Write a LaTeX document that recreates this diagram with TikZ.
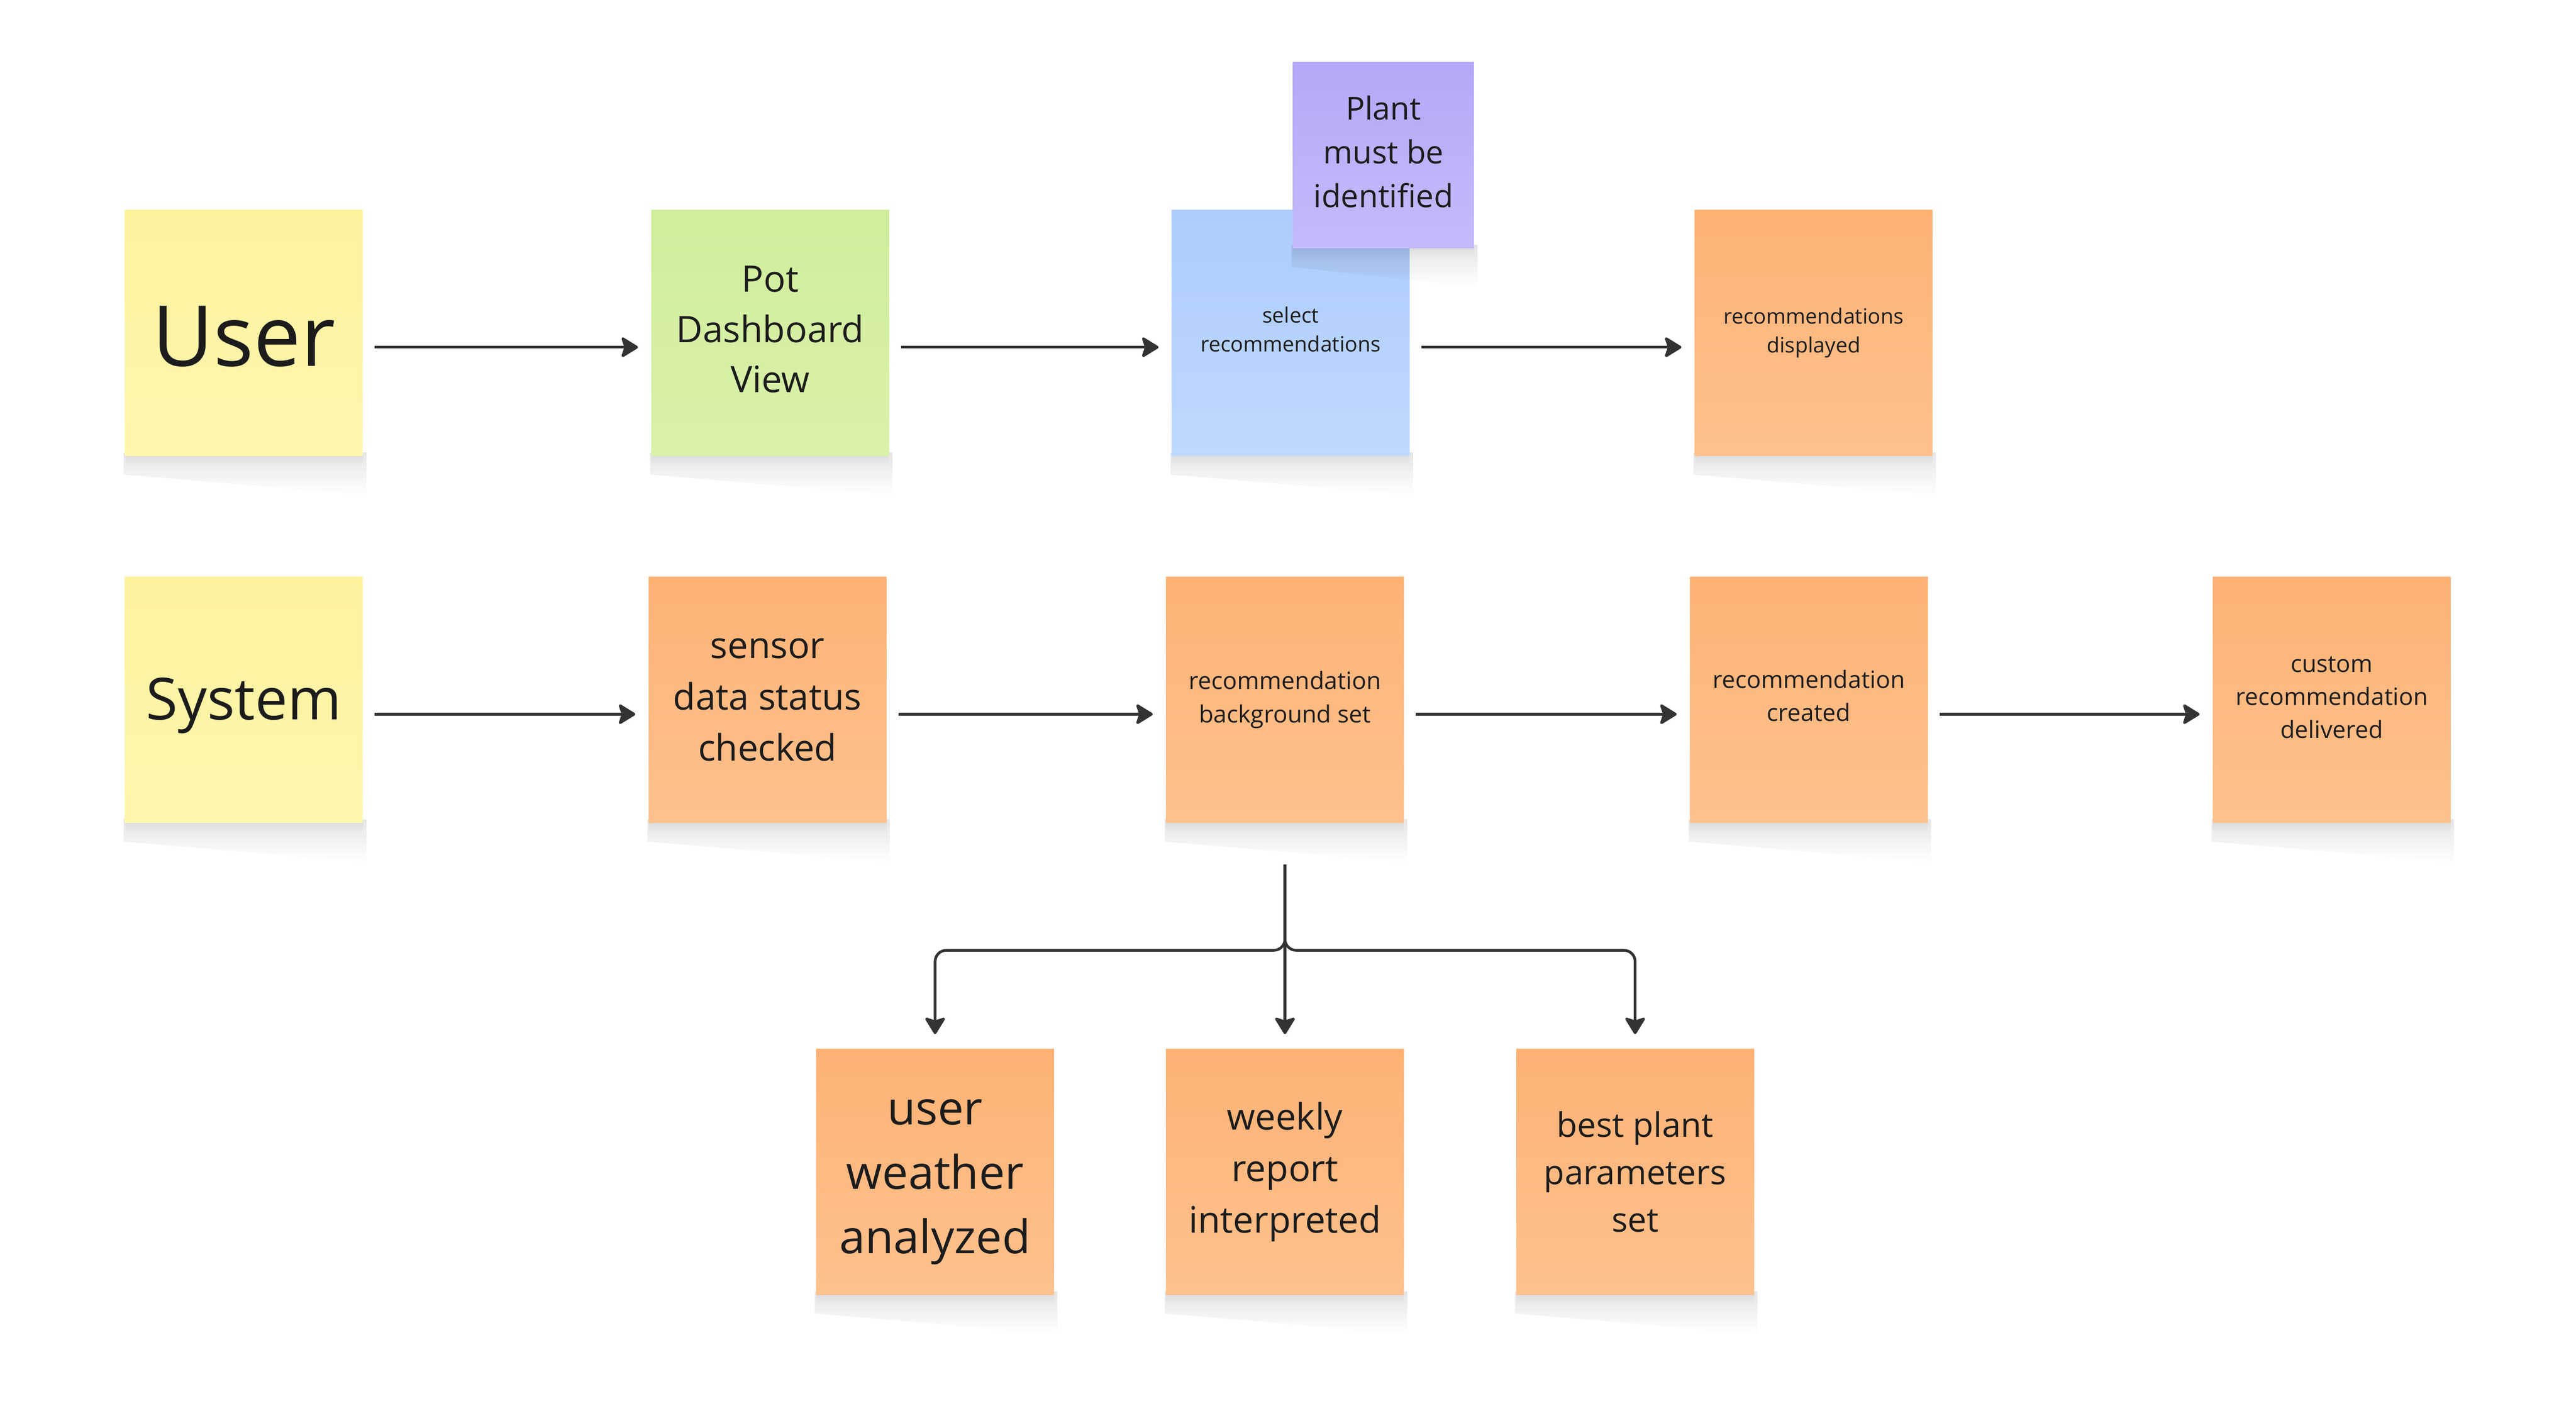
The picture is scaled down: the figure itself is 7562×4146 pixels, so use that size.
\documentclass[tikz,border=0pt]{standalone}
\usepackage{fontspec}
\setmainfont{Open Sans}
\usetikzlibrary{arrows.meta,fadings}
\definecolor{ylT}{HTML}{FDF29E}
\definecolor{ylB}{HTML}{FFF6AD}
\definecolor{grT}{HTML}{CFED9B}
\definecolor{grB}{HTML}{D9F1AA}
\definecolor{blT}{HTML}{ADCCFB}
\definecolor{blB}{HTML}{BED9FF}
\definecolor{puT}{HTML}{B5A7F7}
\definecolor{puB}{HTML}{C5BAFB}
\definecolor{orT}{HTML}{FDB274}
\definecolor{orB}{HTML}{FEC18D}
\definecolor{lc}{HTML}{333333}
\definecolor{txt}{HTML}{1C1C1C}
\newcommand\stickyshadow[3]{%
  \fill[black,opacity=0.10,path fading=south] (#1-4,#3-10) -- (#2+10,#3-10) -- (#2+10,#3+115) -- (#1-4,#3+55) -- cycle;
  \fill[black,opacity=0.05,path fading=south] (#1,#3-5) rectangle (#2,#3+28);}
\newcommand\txheight[1]{\rule{0pt}{#1}}
\newcommand\txdepth[1]{\rule[-#1]{0pt}{#1}}
\begin{document}
\begin{tikzpicture}[x=0.1pt,y=-0.1pt,
  sticky/.style={rectangle, inner sep=0pt, minimum width=69.8pt, minimum height=72.2pt, align=center, text=txt},
  yellowbox/.style={sticky, top color=ylT, bottom color=ylB},
  greenbox/.style={sticky, top color=grT, bottom color=grB},
  bluebox/.style={sticky, top color=blT, bottom color=blB},
  orangebox/.style={sticky, top color=orT, bottom color=orB},
  purplebox/.style={sticky, minimum width=53.2pt, minimum height=54.7pt, top color=puT, bottom color=puB},
  conn/.style={draw=lc, line width=0.8pt, -{Stealth[length=5.5pt,width=6.7pt,inset=1.1pt,round]}},
  hconn/.style={conn, shorten <=3.3pt, shorten >=3.7pt},
  vconn/.style={conn, shorten >=4.1pt, rounded corners=3.3pt}
]
\useasboundingbox (0,0) rectangle (7562,4146);
% row 1
\stickyshadow{367}{1066}{1338}
\node[yellowbox, font=\fontsize{24.7}{30}\selectfont] (user) at (716,977) {\txheight{19.6pt}User};
\stickyshadow{1912}{2610}{1338}
\node[greenbox, font=\fontsize{10.7}{14.8}\selectfont] (pot) at (2261,977) {Pot\\Dashboard\\View\txdepth{2.2pt}};
\stickyshadow{3440}{4138}{1338}
\node[bluebox, font=\fontsize{6.2}{8.5}\selectfont] (select) at (3789,977) {select\\recommendations\txdepth{2.2pt}};
\stickyshadow{3795}{4327}{728}
\node[purplebox, font=\fontsize{9.3}{12.9}\selectfont] (plant) at (4061,455) {Plant\\must be\\identified\txdepth{2pt}};
\stickyshadow{4975}{5673}{1338}
\node[orangebox, font=\fontsize{6.2}{8.5}\selectfont] (recdisp) at (5324,977) {recommendations\\displayed};
% row 2
\stickyshadow{367}{1066}{2415}
\node[yellowbox, font=\fontsize{17}{22}\selectfont] (system) at (716,2054) {\txheight{15.6pt}System};
\stickyshadow{1904}{2602}{2415}
\node[orangebox, font=\fontsize{10.7}{15.1}\selectfont] (sensor) at (2253,2054) {sensor\\data status\\checked};
\stickyshadow{3423}{4121}{2415}
\node[orangebox, font=\fontsize{7}{9.8}\selectfont] (recbg) at (3772,2054) {recommendation\\background set};
\stickyshadow{4961}{5659}{2415}
\node[orangebox, font=\fontsize{7}{9.7}\selectfont] (created) at (5310,2054) {recommendation\\created\txdepth{2.6pt}};
\stickyshadow{6496}{7194}{2415}
\node[orangebox, font=\fontsize{7}{9.7}\selectfont] (custom) at (6845,2054) {custom\\recommendation\\delivered\txdepth{1.4pt}};
% row 3
\stickyshadow{2396}{3094}{3800}
\node[orangebox, font=\fontsize{13.6}{18.9}\selectfont] (weather) at (2745,3439) {\txheight{13.5pt}user\\weather\\analyzed};
\stickyshadow{3423}{4121}{3800}
\node[orangebox, font=\fontsize{10.7}{15.1}\selectfont] (weekly) at (3772,3439) {weekly\\report\\interpreted};
\stickyshadow{4451}{5149}{3800}
\node[orangebox, font=\fontsize{9.9}{13.9}\selectfont] (best) at (4800,3439) {best plant\\parameters\\set};
% connectors
\draw[hconn] ([yshift=-4.2pt]user.east) -- ([yshift=-4.2pt]pot.west);
\draw[hconn] ([yshift=-4.2pt]pot.east) -- ([yshift=-4.2pt]select.west);
\draw[hconn] ([yshift=-4.2pt]select.east) -- ([yshift=-4.2pt]recdisp.west);
\draw[hconn] ([yshift=-4.2pt]system.east) -- ([yshift=-4.2pt]sensor.west);
\draw[hconn] ([yshift=-4.2pt]sensor.east) -- ([yshift=-4.2pt]recbg.west);
\draw[hconn] ([yshift=-4.2pt]recbg.east) -- ([yshift=-4.2pt]created.west);
\draw[hconn] ([yshift=-4.2pt]created.east) -- ([yshift=-4.2pt]custom.west);
\coordinate (trunk) at (3772,2537);
\coordinate (hb) at (3772,2789);
\draw[vconn] (trunk) -- (hb) -| (weather.north);
\draw[vconn] (trunk) -- (hb) -| (best.north);
\draw[vconn] (trunk) -- (weekly.north);
\end{tikzpicture}
\end{document}
